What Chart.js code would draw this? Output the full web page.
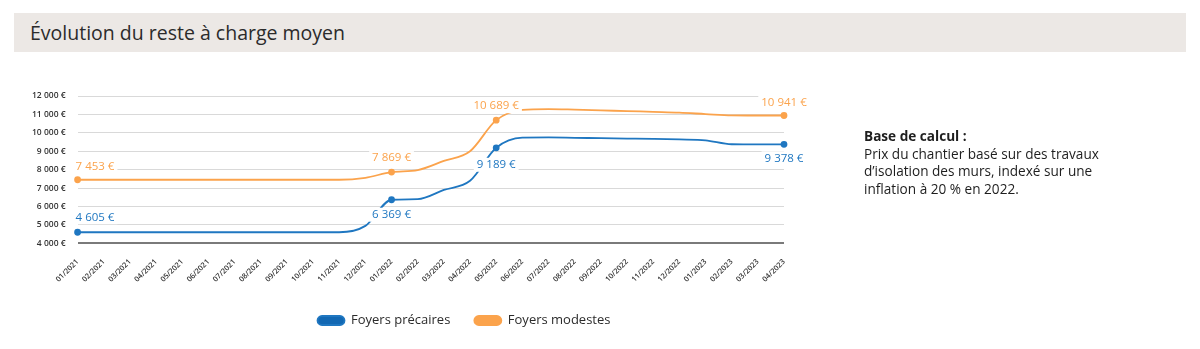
<!DOCTYPE html>
<html lang="fr">
<head>
<meta charset="utf-8">
<title>Évolution du reste à charge moyen</title>
<script src="https://cdn.jsdelivr.net/npm/chart.js@4"></script>
<style>
  html, body { margin: 0; padding: 0; background: #fff; }
  body { width: 1200px; height: 349px; position: relative; overflow: hidden; font-family: "Open Sans", sans-serif; color: #2b2b2b; }
  .titre { position: absolute; left: 14px; top: 13px; width: 1172px; height: 39px; background: #ece8e5; }
  .titre h1 { margin: 0; position: absolute; left: 16px; top: 6px; font-size: 19.5px; font-weight: 400; color: #2b2b2b; }
  .graph { position: absolute; left: 0; top: 60px; width: 930px; height: 293px; }
  .note { position: absolute; left: 864px; top: 127px; font-size: 13.6px; line-height: 17.7px; color: #1e1e1e; }
  .note b { font-weight: 700; }
</style>
</head>
<body>
<div class="titre"><h1>Évolution du reste à charge moyen</h1></div>
<div class="graph"><canvas id="chart"></canvas></div>
<div class="note"><b>Base de calcul :</b><br>Prix du chantier basé sur des travaux<br>d’isolation des murs, indexé sur une<br>inflation à 20 % en 2022.</div>
<script>
const mois = [
  '01/2021', '02/2021', '03/2021', '04/2021', '05/2021', '06/2021', '07/2021',
  '08/2021', '09/2021', '10/2021', '11/2021', '12/2021', '01/2022', '02/2022',
  '03/2022', '04/2022', '05/2022', '06/2022', '07/2022', '08/2022', '09/2022',
  '10/2022', '11/2022', '12/2022', '01/2023', '02/2023', '03/2023', '04/2023'
];

const foyersPrecaires = [
  4605, 4605, 4605, 4605, 4605, 4605, 4605, 4605, 4605, 4605, 4605, 4950,
  6369, 6400, 6900, 7400, 9189, 9740, 9750, 9730, 9710, 9690, 9670, 9640,
  9590, 9380, 9378, 9378
];

const foyersModestes = [
  7453, 7453, 7453, 7453, 7453, 7453, 7453, 7453, 7453, 7453, 7453, 7560,
  7869, 7980, 8480, 9000, 10689, 11250, 11290, 11260, 11220, 11180, 11140, 11100,
  11020, 10945, 10941, 10941
];

// points annotés avec leur valeur
const pointsEtiquetes = [0, 12, 16, 27];

const BLEU = '#1f77c1';
const ORANGE = '#fba34c';

const euros = v => String(Math.round(v)).replace(/\B(?=(\d{3})+(?!\d))/g, ' ') + ' €';

// placement des étiquettes : alignement et décalage vertical
const placementPrecaires = { 0: ['left', -15], 12: ['center', 15], 16: ['center', 17], 27: ['center', 14] };
const placementModestes = { 0: ['left', -13], 12: ['center', -14], 16: ['center', -14], 27: ['center', -13] };

const etiquettes = {
  id: 'etiquettes',
  afterDatasetsDraw(chart) {
    const ctx = chart.ctx;
    ctx.save();
    ctx.font = '11.5px "Open Sans"';
    ctx.textBaseline = 'middle';
    chart.data.datasets.forEach((ds, i) => {
      const meta = chart.getDatasetMeta(i);
      const placement = i === 0 ? placementPrecaires : placementModestes;
      pointsEtiquetes.forEach(idx => {
        const pt = meta.data[idx];
        const [align, dy] = placement[idx];
        const txt = euros(ds.data[idx]);
        const w = ctx.measureText(txt).width;
        const x0 = align === 'left' ? pt.x - 2 : pt.x - w / 2;
        const y = pt.y + dy;
        ctx.fillStyle = '#fff';
        ctx.fillRect(x0 - 3, y - 7, w + 6, 14);
        ctx.fillStyle = ds.borderColor;
        ctx.textAlign = 'left';
        ctx.fillText(txt, x0, y);
      });
    });
    ctx.restore();
  }
};

// légende décalée vers la droite, sous le graphique
const decalageLegende = {
  id: 'decalageLegende',
  afterLayout(chart) {
    chart.legend.left += 62;
    chart.legend.right += 62;
  }
};

const rayons = mois.map((m, i) => pointsEtiquetes.includes(i) ? 2.5 : 0);

new Chart(document.getElementById('chart'), {
  type: 'line',
  data: {
    labels: mois,
    datasets: [
      {
        label: 'Foyers précaires',
        data: foyersPrecaires,
        borderColor: BLEU,
        backgroundColor: '#1268b3',
        pointBackgroundColor: BLEU,
        borderWidth: 1.8,
        pointRadius: rayons,
        pointHoverRadius: rayons,
        cubicInterpolationMode: 'monotone'
      },
      {
        label: 'Foyers modestes',
        data: foyersModestes,
        borderColor: ORANGE,
        backgroundColor: '#fba34c',
        pointBackgroundColor: ORANGE,
        borderWidth: 1.8,
        pointRadius: rayons,
        pointHoverRadius: rayons,
        cubicInterpolationMode: 'monotone'
      }
    ]
  },
  options: {
    responsive: true,
    maintainAspectRatio: false,
    animation: false,
    layout: { padding: { left: 20, right: 146, top: 36, bottom: 16 } },
    plugins: {
      tooltip: { enabled: false },
      legend: {
        position: 'bottom',
        labels: {
          font: { family: '"Open Sans"', size: 13 },
          color: '#2b2b2b',
          boxWidth: 27,
          boxHeight: 9,
          useBorderRadius: true,
          borderRadius: 4.5,
          padding: 24
        }
      }
    },
    scales: {
      x: {
        grid: { display: false },
        border: { display: false },
        ticks: {
          minRotation: 45,
          maxRotation: 45,
          autoSkip: false,
          padding: 6,
          color: '#333',
          font: { family: '"Open Sans"', size: 7.5, weight: '600' }
        }
      },
      y: {
        min: 4000,
        max: 12000,
        border: { display: false },
        grid: {
          drawTicks: false,
          color: c => c.tick && c.tick.value === 4000 ? '#7a7a7a' : '#d9d9d9',
          lineWidth: c => c.tick && c.tick.value === 4000 ? 2 : 1
        },
        ticks: {
          stepSize: 1000,
          padding: 12,
          color: '#333',
          font: { family: '"Open Sans"', size: 8.5, weight: '600' },
          callback: v => euros(v)
        }
      }
    }
  },
  plugins: [etiquettes, decalageLegende]
});
</script>
</body>
</html>
